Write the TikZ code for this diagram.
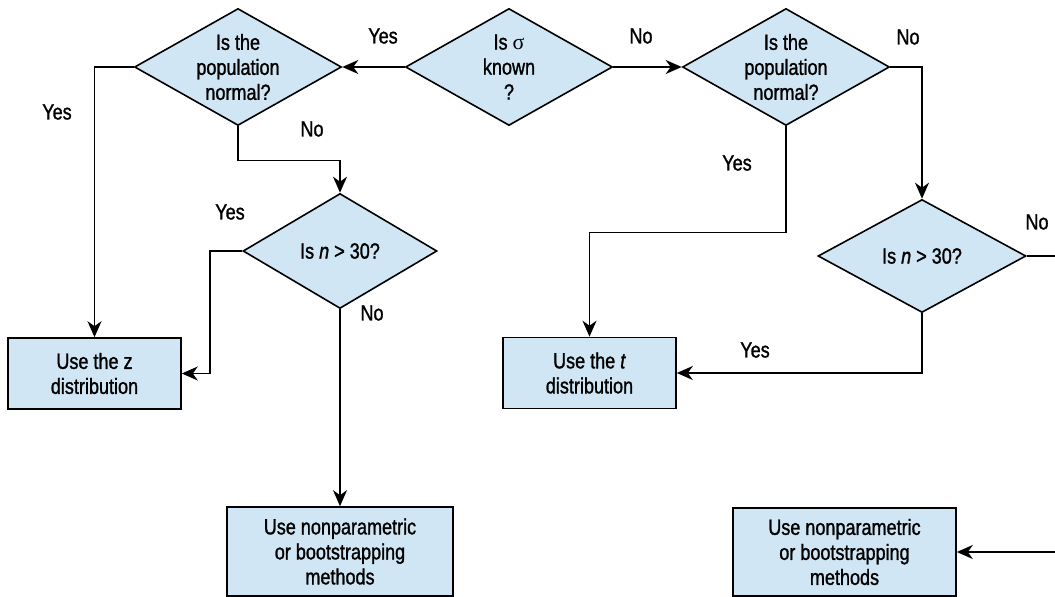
\documentclass[tikz,border=0pt]{standalone}
\usepackage{fontspec}
\setmainfont{Liberation Sans}[FakeStretch=0.82, FakeBold=1.2]
\newfontfamily\greekfont{Liberation Serif}
\usetikzlibrary{shapes.geometric,arrows.meta}
\begin{document}
\begin{tikzpicture}[x=1pt, y=-1pt,
        chartfont/.style={font=\fontsize{22}{25}\selectfont},
        decision/.style={diamond, draw, line width=1.6pt, fill=clbox, inner sep=0pt,
            aspect=1.77, minimum width=207pt, minimum height=117pt, align=center, chartfont},
        outcome/.style={rectangle, draw, line width=1.6pt, fill=clbox, inner sep=0pt,
            minimum width=173pt, minimum height=71pt, align=center, chartfont},
        answer/.style={inner sep=0pt, chartfont},
        flow/.style={line width=1.6pt, -{Stealth[length=16pt, width=14pt, inset=5pt]}}]
            \definecolor{clbox}{HTML}{D0E6F4}
            \useasboundingbox (0,0) rectangle (1055,597);
            % decisions
            \node[decision] (known) at (509,67) {Is {\greekfont σ}\\known\\?};
            \node[decision] (popleft) at (238,67) {Is the\\population\\normal?};
            \node[decision] (popright) at (786,67) {Is the\\population\\normal?};
            \node[decision, minimum width=194pt, minimum height=115pt] (nleft) at (340,251) {Is \textit{n} > 30?};
            \node[decision, minimum width=208pt, minimum height=113pt] (nright) at (922,256) {Is \textit{n} > 30?};
            % outcomes
            \node[outcome] (zdist) at (94.5,373.5) {Use the z\\distribution};
            \node[outcome] (tdist) at (589.5,373) {Use the \textit{t}\\distribution};
            \node[outcome, minimum width=226pt, minimum height=89pt] (bootleft) at (340,551.5) {Use nonparametric\\or bootstrapping\\methods};
            \node[outcome, minimum width=223pt, minimum height=88pt] (bootright) at (844.5,552) {Use nonparametric\\or bootstrapping\\methods};
            % connectors
            \draw[flow] (known.west) -- (popleft.east);
            \draw[flow] (known.east) -- (popright.west);
            \draw[flow] (popleft.west) -| (zdist.north);
            \draw[flow] (popleft.south) -- ++(0,34) -| (nleft.north);
            \draw[flow] (nleft.west) -- ++(-32,0) |- (zdist.east);
            \draw[flow] (nleft.south) -- (bootleft.north);
            \draw[flow] (popright.south) -- ++(0,106) -| (tdist.north);
            \draw[flow] (popright.east) -| (nright.north);
            \draw[flow] (nright.south) |- (tdist.east);
            \draw[flow] (nright.east) -- ++(45,0) |- (bootright.east);
            % labels
            \node[answer] (yesknown) at (383,36) {Yes};
            \node[answer] (noknown) at (641,36) {No};
            \node[answer] (yespopleft) at (57,112) {Yes};
            \node[answer] (nopopleft) at (312,129) {No};
            \node[answer] (yesnleft) at (230,212) {Yes};
            \node[answer] (nonleft) at (372,313) {No};
            \node[answer] (nopopright) at (908,37) {No};
            \node[answer] (yespopright) at (737,163) {Yes};
            \node[answer] (nonright) at (1037,222) {No};
            \node[answer] (yesnright) at (755,350) {Yes};
        \end{tikzpicture}
\end{document}
